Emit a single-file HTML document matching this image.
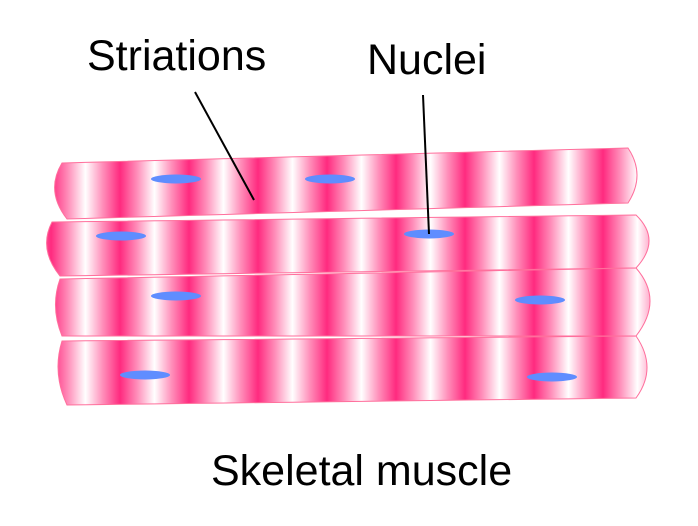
<!DOCTYPE html>
<html><head><meta charset="utf-8"><style>
html,body{margin:0;padding:0;background:#fff;width:698px;height:526px;overflow:hidden}
svg{display:block}
text{font-family:"Liberation Sans",Arial,sans-serif;fill:#000}
</style></head><body>
<svg width="698" height="526" viewBox="0 0 698 526" xmlns="http://www.w3.org/2000/svg">
<defs>
<linearGradient id="g" x1="0" x2="1" y1="0" y2="0">
<stop offset="0" stop-color="#ff2a7f"/>
<stop offset="0.25" stop-color="#ff8fba"/>
<stop offset="0.5" stop-color="#ffffff"/>
<stop offset="0.75" stop-color="#ff8fba"/>
<stop offset="1" stop-color="#ff2a7f"/>
</linearGradient>
<pattern id="p" patternUnits="userSpaceOnUse" x="51" y="0" width="69" height="600">
<rect width="69" height="600" fill="url(#g)"/>
</pattern>
</defs>
<g fill="url(#p)" stroke="#ff6f9c" stroke-width="1">
<path d="M62,163 L628,148 Q646,175 628,203 L67,219 Q45,191 62,163 Z"/>
<path d="M52,222 L636,215 Q662,240 636,268 L60,276 Q38,249 52,222 Z"/>
<path d="M60,279 L636,268 Q664,300 636,336 L62,336 Q50,307 60,279 Z"/>
<path d="M62,341 L636,336 Q658,368 636,398 L67,405 Q52,373 62,341 Z"/>
</g>
<g fill="#5f8dff">
<ellipse cx="176" cy="179" rx="25" ry="4.5"/>
<ellipse cx="330" cy="179" rx="25" ry="4.5"/>
<ellipse cx="121" cy="236" rx="25" ry="4.5"/>
<ellipse cx="429" cy="234" rx="25" ry="4.5"/>
<ellipse cx="176" cy="296" rx="25" ry="4.5"/>
<ellipse cx="540" cy="300" rx="25" ry="4.5"/>
<ellipse cx="145" cy="375" rx="25" ry="4.5"/>
<ellipse cx="552" cy="377" rx="25" ry="4.5"/>
</g>
<g stroke="#000" stroke-width="2">
<line x1="195" y1="92" x2="254" y2="200"/>
<line x1="423" y1="95" x2="429" y2="234"/>
</g>
<text x="87" y="70" font-size="43">Striations</text>
<text x="367" y="74" font-size="43">Nuclei</text>
<text x="211" y="485" font-size="43">Skeletal muscle</text>
</svg>
</body></html>
